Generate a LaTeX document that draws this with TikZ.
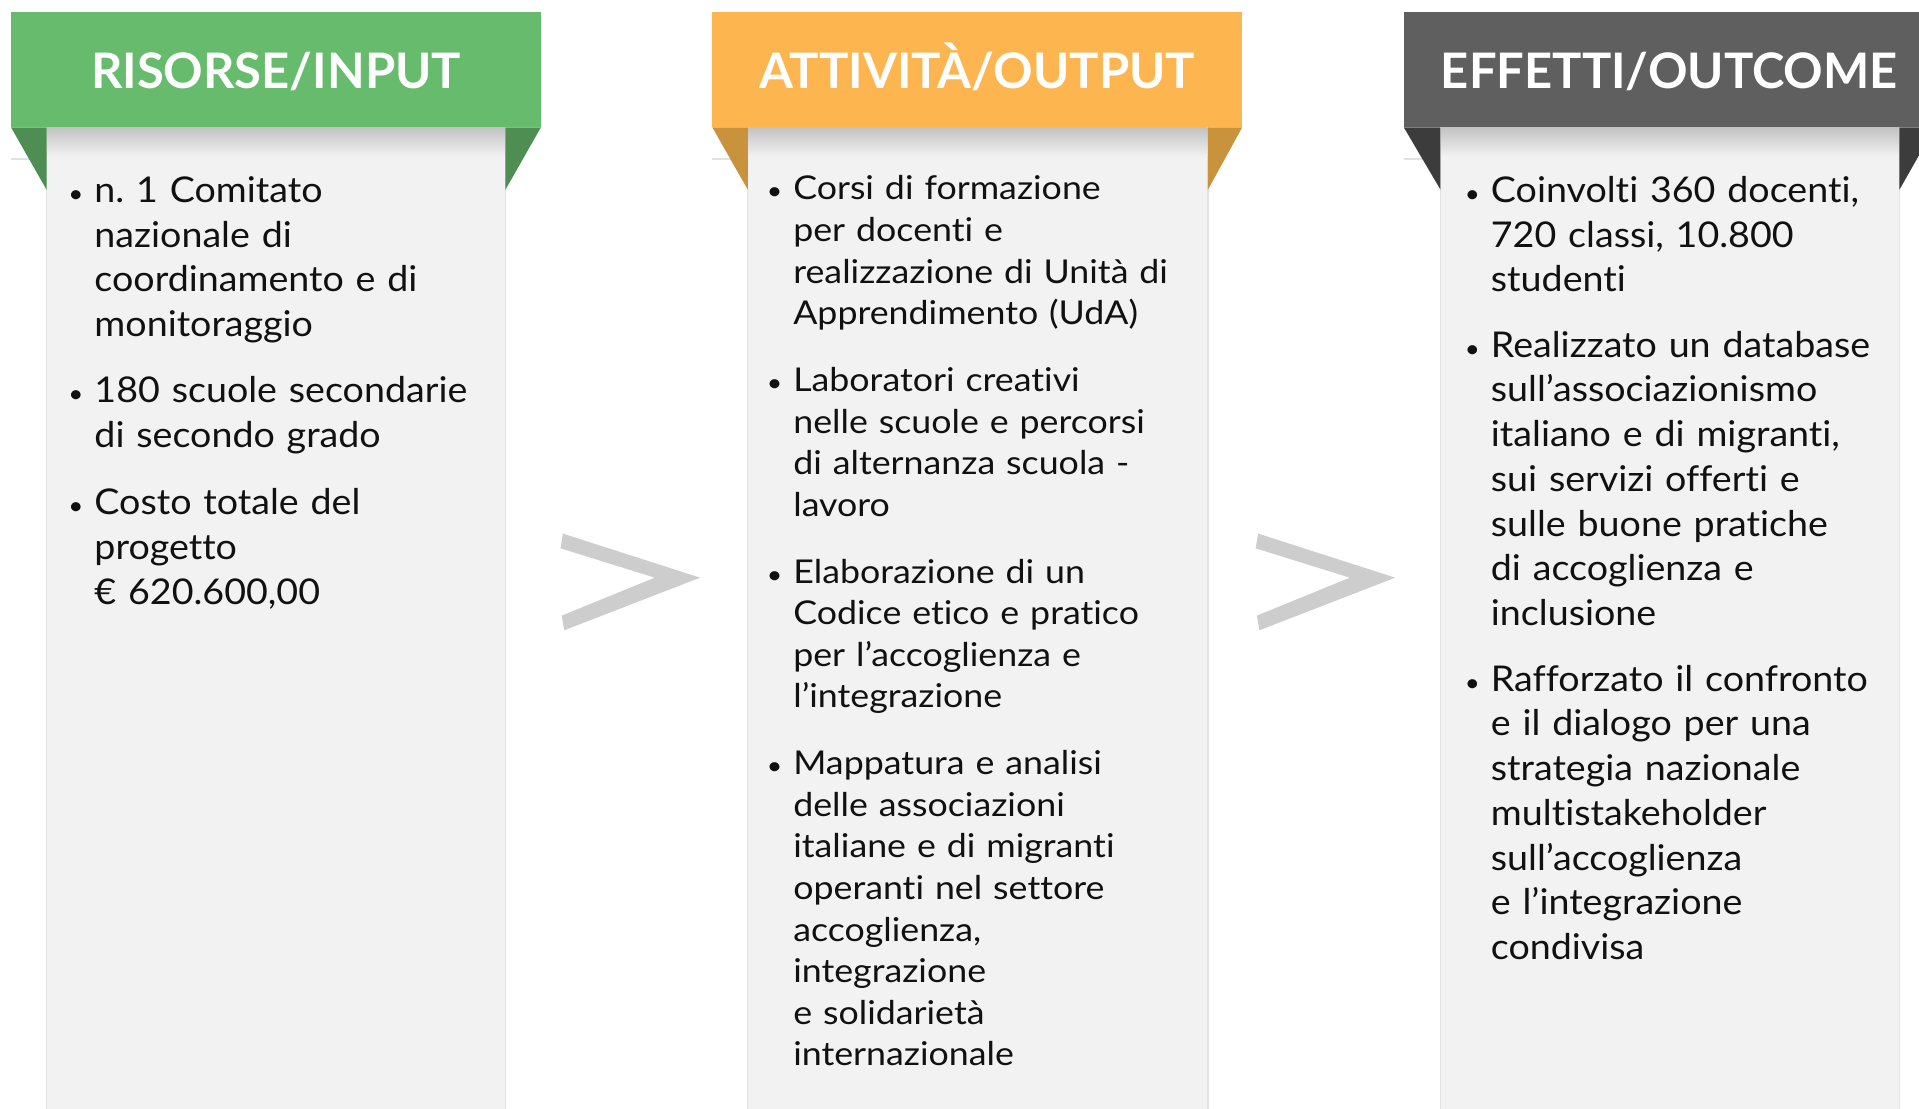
\documentclass[tikz,border=0pt]{standalone}
\usepackage{fontspec}
\setmainfont{Lato}[Ligatures=NoCommon]
\newfontfamily\bodyA{Lato}[Ligatures=NoCommon, FakeStretch=1.06]
\newfontfamily\bodyB{Lato}[Ligatures=NoCommon, FakeStretch=1.09]
\frenchspacing
\definecolor{hgreen}{HTML}{66BB6C}
\definecolor{fgreen}{HTML}{4E8E52}
\definecolor{horange}{HTML}{FDB550}
\definecolor{forange}{HTML}{C9923C}
\definecolor{hgray}{HTML}{5F5F5F}
\definecolor{fgray}{HTML}{3C3C3C}
\definecolor{panelc}{HTML}{F2F2F2}
\definecolor{panelb}{HTML}{E2E2E2}
\definecolor{chevc}{HTML}{CDCDCD}
\definecolor{txt}{HTML}{111111}
\newcommand{\bul}{\llap{{\fontsize{20}{20}\selectfont\textbullet}\hspace{9pt}}}
\begin{document}
\begin{tikzpicture}[x=1pt,y=-1pt,
  hdr/.style={font=\fontsize{40}{44}\selectfont\bfseries, text=white, inner sep=0pt, anchor=base},
  itemA/.style={anchor=north west, inner sep=0pt, text width=460pt, align=left, text=txt, font=\bodyA\fontsize{29}{36.5}\selectfont},
  itemB/.style={anchor=north west, inner sep=0pt, text width=460pt, align=left, text=txt, font=\bodyB\fontsize{26.8}{34}\selectfont},
  panel/.style={fill=panelc, draw=panelb, line width=1pt},
  chev/.style={fill=chevc},
  faint/.style={draw=panelb, line width=1pt}
]
\useasboundingbox (0,0) rectangle (1568,906);
\clip (0,0) rectangle (1568,906);
\fill[white] (0,0) rectangle (1568,906);

% ---------- column geometry ----------
% col 1
\draw[faint] (9,130) -- (38,130);
\draw[panel] (38,104) rectangle (413,912);
\shade[top color=black!24, bottom color=panelc] (38.5,104) rectangle (412.5,128);
\fill[fgreen] (9,104) -- (38,104) -- (38,155) -- cycle;
\fill[fgreen] (442,104) -- (413,104) -- (413,155) -- cycle;
\fill[hgreen] (9,10) rectangle (442,104);
% col 2
\draw[faint] (582,130) -- (611,130);
\draw[panel] (611,104) rectangle (987,912);
\shade[top color=black!24, bottom color=panelc] (611.5,104) rectangle (986.5,128);
\fill[forange] (582,104) -- (611,104) -- (611,155) -- cycle;
\fill[forange] (1015,104) -- (987,104) -- (987,155) -- cycle;
\fill[horange] (582,10) rectangle (1015,104);
% col 3
\draw[faint] (1147,130) -- (1177,130);
\draw[panel] (1177,104) rectangle (1552,912);
\shade[top color=black!24, bottom color=panelc] (1177.5,104) rectangle (1551.5,128);
\fill[fgray] (1147,104) -- (1177,104) -- (1177,155) -- cycle;
\fill[fgray] (1581,104) -- (1552,104) -- (1552,155) -- cycle;
\fill[hgray] (1147,10) rectangle (1581,104);

% ---------- header titles ----------
\node[hdr] (h1) at (225.5,72) {RISORSE/INPUT};
\node[hdr] (h2) at (798.5,72) {ATTIVITÀ/OUTPUT};
\node[hdr] (h3) at (1364,72) {EFFETTI/OUTCOME};

% ---------- column 1 ----------
\node[itemA] (a1) at (77,144) {\bul n. 1 Comitato\\nazionale di\\coordinamento e di\\monitoraggio};
\node[itemA] (a2) at (77,307.2) {\bul 180 scuole secondarie\\di secondo grado};
\node[itemA] (a3) at (77,399) {\bul Costo totale del\\progetto\\€ 620.600,00};

% ---------- column 2 ----------
\node[itemB] (b1) at (648,143.4) {\bul Corsi di formazione\\per docenti e\\realizzazione di Unità di\\Apprendimento (UdA)};
\node[itemB] (b2) at (648,300) {\bul Laboratori creativi\\nelle scuole e percorsi\\di alternanza scuola -\\lavoro};
\node[itemB] (b3) at (648,456.5) {\bul Elaborazione di un\\Codice etico e pratico\\per l’accoglienza e\\l’integrazione};
\node[itemB] (b4) at (648,613) {\bul Mappatura e analisi\\delle associazioni\\italiane e di migranti\\operanti nel settore\\accoglienza,\\integrazione\\e solidarietà\\internazionale};

% ---------- column 3 ----------
\node[itemA] (c1) at (1218,143.8) {\bul Coinvolti 360 docenti,\\720 classi, 10.800\\studenti};
\node[itemA] (c2) at (1218,270.4) {\bul Realizzato un database\\sull’associazionismo\\italiano e di migranti,\\sui servizi offerti e\\sulle buone pratiche\\di accoglienza e\\inclusione};
\node[itemA] (c3) at (1218,543.3) {\bul Rafforzato il confronto\\e il dialogo per una\\strategia nazionale\\multistakeholder\\sull’accoglienza\\e l’integrazione\\condivisa};

% ---------- chevrons ----------
\fill[chev] (460,436) -- (572,472) -- (461,515) -- (459,503) -- (535,472) -- (458,448) -- cycle;
\fill[chev] (1028,436) -- (1140,472) -- (1029,515) -- (1027,503) -- (1103,472) -- (1026,448) -- cycle;
\end{tikzpicture}
\end{document}
